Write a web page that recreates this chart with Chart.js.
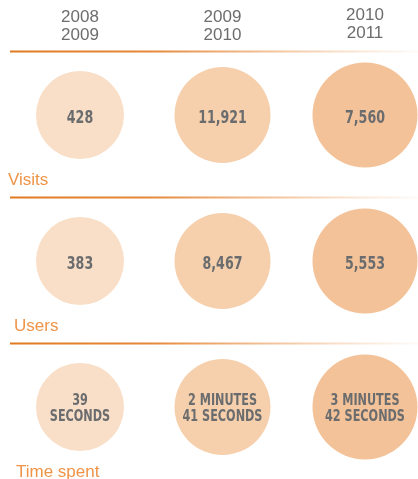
<!DOCTYPE html>
<html>
<head>
<meta charset="utf-8">
<script src="https://cdn.jsdelivr.net/npm/chart.js@4"></script>
<style>
  html, body { margin: 0; padding: 0; background: #fff; }
  #wrap { width: 418px; height: 479px; position: relative; }
</style>
</head>
<body>
<div id="wrap"><canvas id="chart"></canvas></div>
<script>
// ---- data ----
const periods = [["2008", "2009"], ["2009", "2010"], ["2010", "2011"]];
const metrics = ["Visits", "Users", "Time spent"];
const visits = ["428", "11,921", "7,560"];
const users = ["383", "8,467", "5,553"];
const timeSpent = [["39", "SECONDS"], ["2 MINUTES", "41 SECONDS"], ["3 MINUTES", "42 SECONDS"]];

// ---- styles ----
const circleColors = ["#f9dfc7", "#f6d0ac", "#f3c298"];
const circleRadius = [44, 48, 52.5];
const labelOffsetX = [8, 14, 16];
const condensed = "'DejaVu Sans Condensed', 'DejaVu Sans', sans-serif";
const plain = "'Liberation Sans', Arial, sans-serif";
const squeeze = 0.78; // the original uses a narrow bold face

const rows = [visits, users, timeSpent];
const points = [];
rows.forEach((vals, r) => {
  vals.forEach((v, c) => points.push({ x: c, y: r, label: v }));
});

function narrowText(ctx, txt, x, y) {
  ctx.save();
  ctx.translate(x, y);
  ctx.scale(squeeze, 1);
  ctx.fillText(txt, 0, 0);
  ctx.restore();
}

// decorations: header, separator lines, row labels, values inside circles
const infoPlugin = {
  id: "info",
  afterDatasetsDraw(chart) {
    const { ctx, scales } = chart;
    const xs = scales.x, ys = scales.y;
    const w = chart.width;
    ctx.save();

    // header
    ctx.fillStyle = "#6d6d6d";
    ctx.font = "17px " + plain;
    ctx.textAlign = "center";
    ctx.textBaseline = "middle";
    periods.forEach((p, i) => {
      const x = xs.getPixelForValue(i);
      const top = i === 2 ? 15 : 17.5;
      ctx.fillText(p[0], x, top);
      ctx.fillText(p[1], x, top + 18);
    });

    // separator lines
    metrics.forEach((m, r) => {
      const y = Math.round(ys.getPixelForValue(r - 0.435)) + 0.5;
      const g = ctx.createLinearGradient(10, 0, w, 0);
      g.addColorStop(0, "#e07a1f");
      g.addColorStop(0.35, "#e5883a");
      g.addColorStop(1, "rgba(238,170,110,0.05)");
      ctx.strokeStyle = g;
      ctx.lineWidth = 2;
      ctx.beginPath();
      ctx.moveTo(10, y);
      ctx.lineTo(w, y);
      ctx.stroke();
    });

    // row labels
    ctx.fillStyle = "#ef9447";
    ctx.font = "17px " + plain;
    ctx.textAlign = "left";
    metrics.forEach((m, r) => {
      ctx.fillText(m, labelOffsetX[r], ys.getPixelForValue(r + 0.45));
    });

    // values
    ctx.fillStyle = "#6b6c6e";
    ctx.textAlign = "center";
    chart.getDatasetMeta(0).data.forEach((el, i) => {
      const p = points[i];
      if (Array.isArray(p.label)) {
        ctx.font = "bold 16px " + condensed;
        narrowText(ctx, p.label[0], el.x, el.y - 6);
        narrowText(ctx, p.label[1], el.x, el.y + 10);
      } else {
        ctx.font = "bold 18px " + condensed;
        narrowText(ctx, p.label, el.x, el.y + 3);
      }
    });
    ctx.restore();
  }
};

new Chart(document.getElementById("chart"), {
  type: "bubble",
  data: {
    datasets: [{
      data: points,
      clip: false,
      backgroundColor: (c) => circleColors[c.raw ? c.raw.x : 0],
      borderWidth: 0,
      radius: (c) => circleRadius[c.raw ? c.raw.x : 0],
      hoverRadius: 0
    }]
  },
  options: {
    responsive: true,
    maintainAspectRatio: false,
    animation: false,
    events: [],
    layout: { padding: { left: 80, right: 53, top: 115, bottom: 72 } },
    plugins: { legend: { display: false }, tooltip: { enabled: false } },
    scales: {
      x: { type: "linear", min: 0, max: 2, display: false },
      y: { type: "linear", min: 0, max: 2, reverse: true, display: false }
    }
  },
  plugins: [infoPlugin]
});
</script>
</body>
</html>
